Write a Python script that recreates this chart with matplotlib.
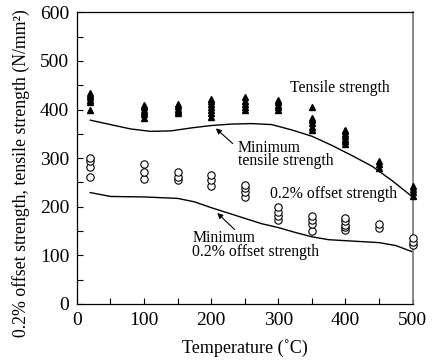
import matplotlib
matplotlib.use("Agg")
import matplotlib.pyplot as plt
from matplotlib.ticker import MultipleLocator

plt.rcParams["font.family"] = ["Liberation Serif", "DejaVu Serif"]

# test temperatures (deg C)
temps = [20, 100, 150, 200, 250, 300, 350, 400, 450, 500]

# tensile strength measurements per temperature (N/mm2)
tensile = [
    [400, 415, 420, 425, 430, 435],
    [383, 390, 395, 400, 405, 410],
    [392, 397, 402, 407, 412],
    [385, 392, 398, 405, 412, 418, 422],
    [398, 405, 412, 418, 425],
    [398, 405, 410, 415, 420],
    [358, 365, 372, 378, 383, 405],
    [328, 335, 340, 345, 350, 355, 358],
    [280, 287, 295],
    [222, 230, 237, 243],
]

# 0.2% offset strength measurements per temperature (N/mm2)
offset = [
    [262, 282, 295, 300],
    [257, 272, 287],
    [255, 262, 271],
    [242, 254, 266],
    [220, 230, 238, 245],
    [173, 180, 188, 200],
    [150, 165, 172, 181],
    [152, 158, 163, 170, 177],
    [156, 164],
    [121, 128, 135],
]

# specified minimum curves
min_ts_t = [20, 50, 80, 110, 140, 170, 200, 230, 260, 290, 320, 350, 380, 410, 440, 470, 500]
min_ts_v = [378, 369, 360, 355, 356, 362, 367, 370, 371, 369, 358, 345, 326, 305, 283, 253, 220]
min_ys_t = [20, 50, 100, 150, 175, 200, 225, 250, 275, 300, 325, 350, 375, 400, 425, 450, 475, 500]
min_ys_v = [229, 221, 220, 217, 210, 198, 187, 176, 165, 157, 147, 138, 132, 130, 128, 126, 120, 107]

fig = plt.figure(figsize=(4.32, 3.63), dpi=100)
ax = fig.add_axes([0.178, 0.163, 0.777, 0.803])

for t, vals in zip(temps, tensile):
    ax.plot([t] * len(vals), vals, linestyle="none", marker="^", ms=4.5,
            color="black", clip_on=False, zorder=3)
for t, vals in zip(temps, offset):
    ax.plot([t] * len(vals), vals, linestyle="none", marker="o", ms=5.3,
            mfc="white", mec="black", mew=0.8, clip_on=False, zorder=3)

ax.plot(min_ts_t, min_ts_v, color="black", lw=1.0)
ax.plot(min_ys_t, min_ys_v, color="black", lw=1.0)

fs = 11.3
ax.text(317, 444, "Tensile strength", fontsize=fs, va="center")
ax.text(287, 226, "0.2% offset strength", fontsize=fs, va="center")

arrow = dict(arrowstyle="-|>", color="black", lw=0.8, mutation_scale=8,
             shrinkA=0, shrinkB=0)
ax.annotate("", xy=(207, 361), xytext=(232, 330), arrowprops=arrow)
ax.text(240, 307, "Minimum\ntensile strength", fontsize=fs, va="center",
        linespacing=0.78)
ax.annotate("", xy=(209, 187), xytext=(235, 153), arrowprops=arrow)
ax.text(172, 121, "Minimum\n0.2% offset strength", fontsize=fs, va="center",
        linespacing=0.78)

ax.set_xlim(0, 500)
ax.set_ylim(0, 600)
ax.xaxis.set_major_locator(MultipleLocator(100))
ax.xaxis.set_minor_locator(MultipleLocator(50))
ax.yaxis.set_major_locator(MultipleLocator(100))
ax.yaxis.set_minor_locator(MultipleLocator(50))
ax.tick_params(which="both", direction="in", length=4.5, width=0.8,
               top=False, right=False, labelsize=14)
ax.tick_params(axis="x", pad=6)
ax.tick_params(axis="y", pad=5.5)

for side in ["left", "bottom", "top"]:
    ax.spines[side].set_linewidth(0.9)
ax.spines["right"].set_color("#808080")
ax.spines["right"].set_linewidth(1.3)

ax.set_xlabel("Temperature (\u02daC)", fontsize=13, labelpad=7)
ax.set_ylabel("0.2% offset strength, tensile strength (N/mm\u00b2)",
              fontsize=12.8)
ax.yaxis.set_label_coords(-0.14, 0.45)

fig.savefig("out.png", dpi=100)
